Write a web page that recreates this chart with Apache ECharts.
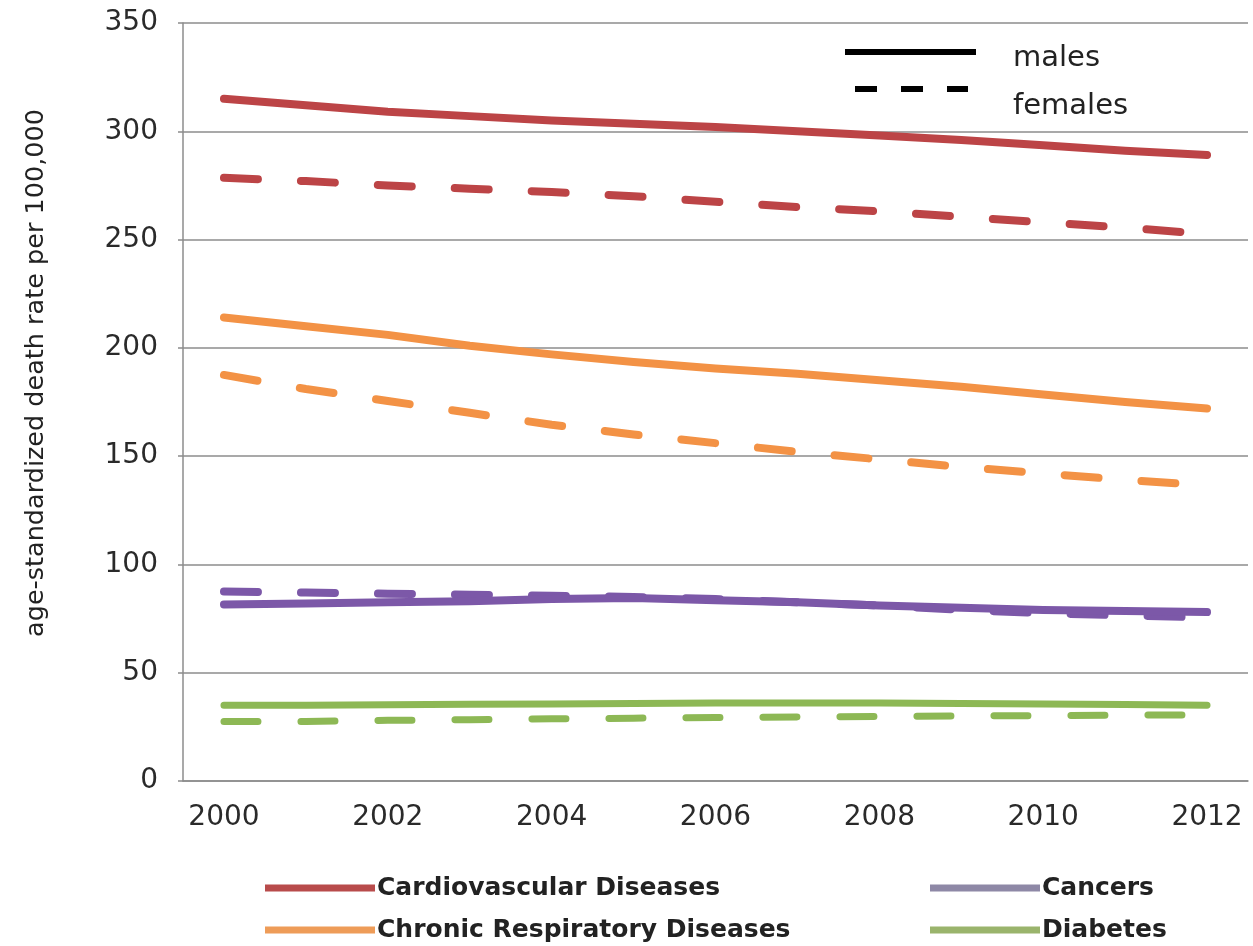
<!DOCTYPE html>
<html>
<head>
<meta charset="utf-8">
<script src="https://cdn.jsdelivr.net/npm/echarts@6/dist/echarts.min.js"></script>
<style>
html,body{margin:0;padding:0;background:#fff;}
#chart{width:1253px;height:946px;}
</style>
</head>
<body>
<div id="chart"></div>
<script>
const years = ['2000','2001','2002','2003','2004','2005','2006','2007','2008','2009','2010','2011','2012'];
const cvdMales = [315, 312, 309, 307, 305, 303.5, 302, 300, 298, 296, 293.5, 291, 289];
const cvdFemales = [278.5, 277, 275, 273.5, 272, 270, 267.5, 265, 263, 260.5, 258, 255.5, 252.5];
const crdMales = [214, 210, 206, 201, 197, 193.5, 190.5, 188, 185, 182, 178.5, 175, 172];
const crdFemales = [187.5, 181, 175.5, 170, 164.5, 160, 156, 152, 148.5, 145, 142, 139, 136.5];
const cancerMales = [81.5, 82, 82.5, 83, 84, 84.5, 83.5, 82.5, 81, 80, 79, 78.5, 78];
const cancerFemales = [87.5, 87, 86.5, 86, 85.5, 85, 84, 82.5, 81, 79, 77.5, 76.5, 75.5];
const diabMales = [35, 35, 35.2, 35.4, 35.6, 35.8, 36, 36, 36, 35.8, 35.6, 35.3, 35];
const diabFemales = [27.5, 27.5, 28, 28.3, 28.7, 29, 29.3, 29.6, 29.8, 30, 30.2, 30.4, 30.5];

const diseaseNames = ['Cardiovascular Diseases', 'Chronic Respiratory Diseases', 'Cancers', 'Diabetes'];
const lineColors = ['#BC4446', '#F39245', '#7C58A8', '#8DB855'];
const legendColors = ['#B84B4B', '#EE9C58', '#8E88A6', '#9AB46C'];
const yTitle = 'age-standardized death rate per 100,000';

const FONT = 'DejaVu Sans';
const axisGray = '#8c8c8c';

function mkSeries(name, data, color, dashed, width) {
  return {
    name: name,
    type: 'line',
    data: data,
    symbol: 'none',
    smooth: false,
    silent: true,
    lineStyle: {
      color: color,
      width: width,
      cap: 'round',
      join: 'round',
      type: dashed ? [34, 43] : 'solid'
    },
    itemStyle: { color: color }
  };
}

const series = [
  mkSeries(diseaseNames[0], cvdMales, lineColors[0], false, 8),
  mkSeries(diseaseNames[0] + ' (females)', cvdFemales, lineColors[0], true, 8),
  mkSeries(diseaseNames[1], crdMales, lineColors[1], false, 8),
  mkSeries(diseaseNames[1] + ' (females)', crdFemales, lineColors[1], true, 8),
  mkSeries(diseaseNames[2] + ' (females)', cancerFemales, lineColors[2], true, 8),
  mkSeries(diseaseNames[2], cancerMales, lineColors[2], false, 8),
  mkSeries(diseaseNames[3], diabMales, lineColors[3], false, 7),
  mkSeries(diseaseNames[3] + ' (females)', diabFemales, lineColors[3], true, 7)
];

function legendBlock(left, names, colors) {
  return {
    orient: 'vertical',
    left: left,
    top: 875,
    padding: 0,
    itemGap: 16,
    itemWidth: 110,
    itemHeight: 7,
    icon: 'rect',
    selectedMode: false,
    textStyle: { fontFamily: FONT, fontWeight: 'bold', fontSize: 25, color: '#222', lineHeight: 26, padding: [0,0,0,-3] },
    data: names.map((n, i) => ({ name: n, itemStyle: { color: colors[i] } }))
  };
}

const chart = echarts.init(document.getElementById('chart'), null, { renderer: 'canvas' });
chart.setOption({
  animation: false,
  backgroundColor: '#ffffff',
  grid: { left: 183, right: 5, top: 23, bottom: 165, containLabel: false, outerBoundsMode: 'none' },
  xAxis: {
    type: 'category',
    data: years,
    boundaryGap: true,
    axisLine: { show: true, lineStyle: { color: axisGray, width: 1.5 } },
    axisTick: { show: false },
    axisLabel: { interval: 1, margin: 23, fontFamily: FONT, fontSize: 28, color: '#2a2a2a' },
    splitLine: { show: false }
  },
  yAxis: {
    type: 'value',
    min: 0, max: 350, interval: 50,
    axisLine: { show: true, lineStyle: { color: axisGray, width: 1.5 } },
    axisTick: { show: true, inside: false, length: 5, lineStyle: { color: axisGray, width: 1.5 } },
    axisLabel: { margin: 25, fontFamily: FONT, fontSize: 28, color: '#2a2a2a' },
    splitLine: { show: true, lineStyle: { color: axisGray, width: 1.5 } }
  },
  legend: [
    legendBlock(265, [diseaseNames[0], diseaseNames[1]], [legendColors[0], legendColors[1]]),
    legendBlock(930, [diseaseNames[2], diseaseNames[3]], [legendColors[2], legendColors[3]])
  ],
  graphic: [
    {
      type: 'text', x: 36, y: 373, rotation: Math.PI / 2,
      style: { text: yTitle, fontFamily: FONT, fontSize: 25.5, fill: '#222', align: 'center', verticalAlign: 'middle' }
    },
    {
      type: 'line', shape: { x1: 845, y1: 52, x2: 976, y2: 52 },
      style: { stroke: '#000', lineWidth: 6 }
    },
    {
      type: 'line', shape: { x1: 855, y1: 89, x2: 968, y2: 89 },
      style: { stroke: '#000', lineWidth: 6, lineDash: [22, 24] }
    },
    {
      type: 'text', x: 1013, y: 58,
      style: { text: 'males', fontFamily: FONT, fontSize: 29, fill: '#222', align: 'left', verticalAlign: 'middle' }
    },
    {
      type: 'text', x: 1013, y: 106,
      style: { text: 'females', fontFamily: FONT, fontSize: 29, fill: '#222', align: 'left', verticalAlign: 'middle' }
    }
  ],
  series: series
});
</script>
</body>
</html>
